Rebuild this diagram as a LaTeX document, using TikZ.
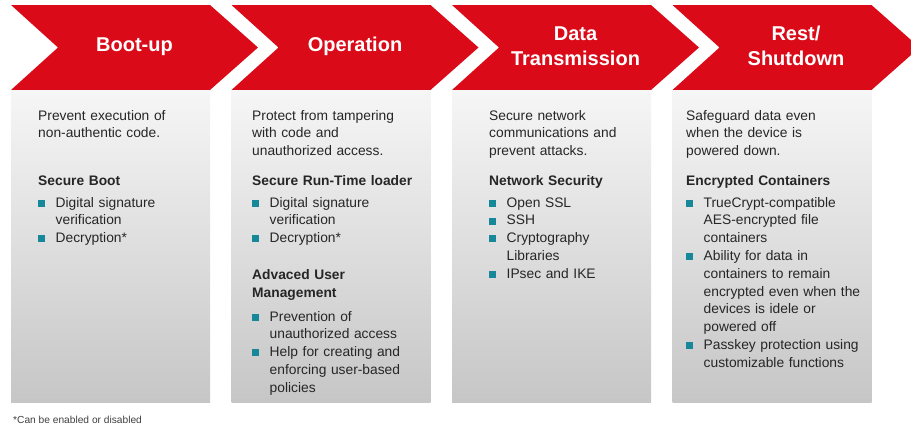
\documentclass[tikz,border=0pt]{standalone}
\usepackage{fontspec}
\setmainfont{Liberation Sans}
\usetikzlibrary{positioning}
\definecolor{chevred}{HTML}{DA0A18}
\definecolor{paneltop}{HTML}{F6F6F6}
\definecolor{panelbot}{HTML}{C6C6C6}
\definecolor{bulletteal}{HTML}{17879A}
\definecolor{bodytext}{HTML}{262626}
\definecolor{notetext}{HTML}{404040}
\setlength{\parindent}{0pt}
\newcommand{\bitem}[1]{\hangindent=17.5pt\hangafter=1\noindent\makebox[17.5pt][l]{\textcolor{bulletteal}{\rule[0.2pt]{7pt}{7pt}}}#1\par}
\tikzstyle{phase} = [fill=chevred, draw=none]
\tikzstyle{panel} = [top color=paneltop, bottom color=panelbot, draw=none]
\tikzstyle{phasetitle} = [text=white, align=center, inner sep=0pt, anchor=base, font=\fontsize{20}{25}\selectfont\bfseries]
\tikzstyle{intro} = [text=bodytext, text width=186pt, align=left, inner sep=0pt, anchor=base west, font=\fontsize{13.8}{17.8}\selectfont]
\tikzstyle{subhead} = [intro, font=\fontsize{13.8}{17.8}\selectfont\bfseries]
\begin{document}
\begin{tikzpicture}[x=1pt, y=-1pt]
    \clip (0,0) rectangle (911,426);

        % Chevrons and panels
        \foreach \i in {0,...,3} {
            \fill[phase, xshift=\i*220.5] (11,5) -- (210,5) -- (258,47.5) -- (210,90) -- (11,90) -- (58,47.5) -- cycle;
            \shade[panel, xshift=\i*220.5] (11,90) rectangle (210,402);
        }

        % Phase titles
        \node[phasetitle] (H1) at (134.5,51.7) {Boot-up};
        \node[phasetitle] (H2) at (355,51.7) {Operation};
        \node[phasetitle] (H3) at (575.5,65) {Data\\Transmission};
        \node[phasetitle] (H4) at (796,65) {Rest/\\Shutdown};

        % Boot-up
        \node[intro] (T1) at (38,120) {Prevent execution of\\non-authentic code.};
        \node[subhead] (S1) at (38,185) {Secure Boot};
        \node[intro] (L1) at (38,207) {\bitem{Digital signature\newline verification}\bitem{Decryption*}};

        % Operation
        \node[intro] (T2) at (252,120) {Protect from tampering\\with code and\\unauthorized access.};
        \node[subhead] (S2) at (252,185) {Secure Run-Time loader};
        \node[intro] (L2) at (252,207) {\bitem{Digital signature\newline verification}\bitem{Decryption*}};
        \node[subhead] (S2b) at (252,279.3) {Advaced User\\Management};
        \node[intro] (L2b) at (252,321) {\bitem{Prevention of\newline unauthorized access}\bitem{Help for creating and\newline enforcing user-based\newline policies}};

        % Data Transmission
        \node[intro] (T3) at (489,120) {Secure network\\communications and\\prevent attacks.};
        \node[subhead] (S3) at (489,185) {Network Security};
        \node[intro] (L3) at (489,207) {\bitem{Open SSL}\bitem{SSH}\bitem{Cryptography\newline Libraries}\bitem{IPsec and IKE}};

        % Rest/Shutdown
        \node[intro] (T4) at (686,120) {Safeguard data even\\when the device is\\powered down.};
        \node[subhead] (S4) at (686,185) {Encrypted Containers};
        \node[intro] (L4) at (686,207) {\bitem{TrueCrypt-compatible\newline AES-encrypted file\newline containers}\bitem{Ability for data in\newline containers to remain\newline encrypted even when the\newline devices is idele or\newline powered off}\bitem{Passkey protection using\newline customizable functions}};

        % Footnote
        \node[anchor=base west, inner sep=0pt, text=notetext, font=\fontsize{10.2}{12}\selectfont] (note) at (13,423.5) {*Can be enabled or disabled};

    \end{tikzpicture}
\end{document}
